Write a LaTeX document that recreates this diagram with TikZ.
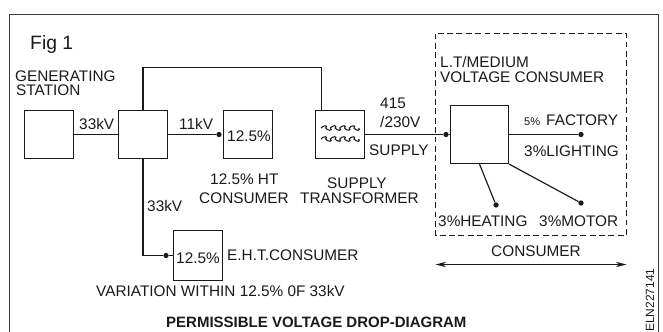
\documentclass[tikz,border=0pt]{standalone}
\usepackage{fontspec}
\setmainfont{Liberation Sans}
\usetikzlibrary{arrows.meta, positioning, calc}
\definecolor{DiagramBlack}{HTML}{1A1A1A}
\definecolor{DiagramFrame}{HTML}{3C3C3C}
\tikzset{
    % Node styles
    squarebox/.style={
        rectangle,
        draw=DiagramBlack,
        fill=white,
        line width=1pt,
        inner sep=0pt,
        minimum width=1.47cm,
        minimum height=1.44cm
    },
    loadbox/.style={
        squarebox,
        minimum width=1.74cm,
        minimum height=1.74cm
    },
    dotmark/.style={
        circle,
        fill=DiagramBlack,
        inner sep=0pt,
        minimum size=4.5pt
    },
    plainlabel/.style={
        anchor=base west,
        inner sep=0pt,
        text=DiagramBlack,
        font=\fontsize{13.1}{14}\selectfont
    },
    % Arrow styles
    wireline/.style={
        line width=1pt,
        DiagramBlack
    },
    spanarrow/.style={
        {Stealth[length=9pt,width=4.5pt]}-{Stealth[length=9pt,width=4.5pt]},
        line width=1pt,
        DiagramBlack
    }
}
\begin{document}
\begin{tikzpicture}[x=0.03cm,y=-0.03cm]
    \useasboundingbox (0,0) rectangle (663,332);
    % Frame
    \draw[DiagramFrame,thick] (9.5,332) -- (9.5,14.5) -- (658.5,14.5) -- (658.5,332);
    \node[plainlabel,font=\fontsize{16.5}{17}\selectfont] (figlabel) at (30,49) {Fig 1};

    % Consumer area
    \draw[DiagramBlack,thick,dash pattern=on 5pt off 3pt] (435.5,33.5) rectangle (626.5,235.5);

    % Boxes
    \node[squarebox] (station) at (49,134.5) {};
    \node[squarebox] (substation) at (143,134.5) {};
    \node[squarebox] (htbox) at (248,134.5) {};
    \node[squarebox] (transformer) at (340,134.5) {};
    \node[loadbox] (ltbox) at (479.5,134.5) {};
    \node[squarebox,minimum height=1.5cm] (ehtbox) at (198,255.5) {};

    % Dots
    \node[dotmark] (htdot) at (219,134.5) {};
    \node[dotmark] (ltdot) at (446,134.5) {};
    \node[dotmark] (factorydot) at (581,134.5) {};
    \node[dotmark] (heatingdot) at (496,205) {};
    \node[dotmark] (motordot) at (581,203) {};
    \node[dotmark] (ehtdot) at (166,255.5) {};

    % Wires
    \draw[wireline] (station.east) -- (substation.west);
    \draw[wireline] (substation.east) -- (htdot);
    \draw[wireline] (transformer.east) -- (ltdot) -- (ltbox.west);
    \draw[wireline] (ltbox.east) -- (factorydot);
    \draw[wireline] (ltbox.south) -- (heatingdot);
    \draw[wireline] (ltbox.south east) -- (motordot);
    \draw[wireline] (substation.north) |- (321.5,67.5) -- (321.5,110.5);
    \draw[wireline] (substation.south) |- (ehtdot);
    \draw[wireline] (ehtdot) -- (ehtbox.west);

    % Transformer windings
    \foreach \waveY in {128,139} {
        \draw[DiagramBlack,line width=0.9pt] (321,\waveY)
            \foreach \waveX in {0,1,2,3} {
                .. controls +(2,-3) and +(3,-3) .. ++(4.7,0)
                .. controls +(2,3) and +(3,3) .. ++(4.7,0)
            };
    }

    % Labels
    \node[plainlabel] (stationa) at (15,81) {GENERATING};
    \node[plainlabel] (stationb) at (16,95) {STATION};
    \node[plainlabel] (feedera) at (79,129) {33kV};
    \node[plainlabel] (feederb) at (179,129) {11kV};
    \node[plainlabel] (feederc) at (147,211) {33kV};
    \node[plainlabel] (htvalue) at (227,141) {12.5\%};
    \node[plainlabel] (htnamea) at (210,184) {12.5\% HT};
    \node[plainlabel] (htnameb) at (199,203) {CONSUMER};
    \node[plainlabel] (transa) at (327,188) {SUPPLY};
    \node[plainlabel] (transb) at (300,203) {TRANSFORMER};
    \node[plainlabel] (supplya) at (380,108) {415};
    \node[plainlabel] (supplyb) at (380,127.5) {/230V};
    \node[plainlabel] (supplyc) at (369,155) {SUPPLY};
    \node[plainlabel] (lta) at (440,67) {L.T/MEDIUM};
    \node[plainlabel] (ltb) at (440,82) {VOLTAGE CONSUMER};
    \node[plainlabel,font=\fontsize{9.5}{10}\selectfont] (factorya) at (524,125) {5\%};
    \node[plainlabel] (factoryb) at (546,125) {FACTORY};
    \node[plainlabel] (lighting) at (524,156) {3\%LIGHTING};
    \node[plainlabel] (heating) at (438,226) {3\%HEATING};
    \node[plainlabel] (motor) at (539,226) {3\%MOTOR};
    \node[plainlabel] (ehtvalue) at (176,263) {12.5\%};
    \node[plainlabel] (ehtname) at (227,260) {E.H.T.CONSUMER};
    \node[plainlabel] (variation) at (96,296) {VARIATION WITHIN 12.5\% 0F 33kV};
    \node[plainlabel] (consumer) at (491,256) {CONSUMER};
    \node[plainlabel,font=\fontsize{12.8}{13}\selectfont\bfseries] (title) at (166,327) {PERMISSIBLE VOLTAGE DROP-DIAGRAM};
    \node[plainlabel,rotate=90,font=\fontsize{10.2}{11}\selectfont] (drawingno) at (654,332) {ELN227141};

    % Consumer span
    \coordinate (spanleft) at (435.5,264.5);
    \coordinate (spanright) at (626.5,264.5);
    \draw[spanarrow] (spanleft) -- (spanright);
\end{tikzpicture}
\end{document}
